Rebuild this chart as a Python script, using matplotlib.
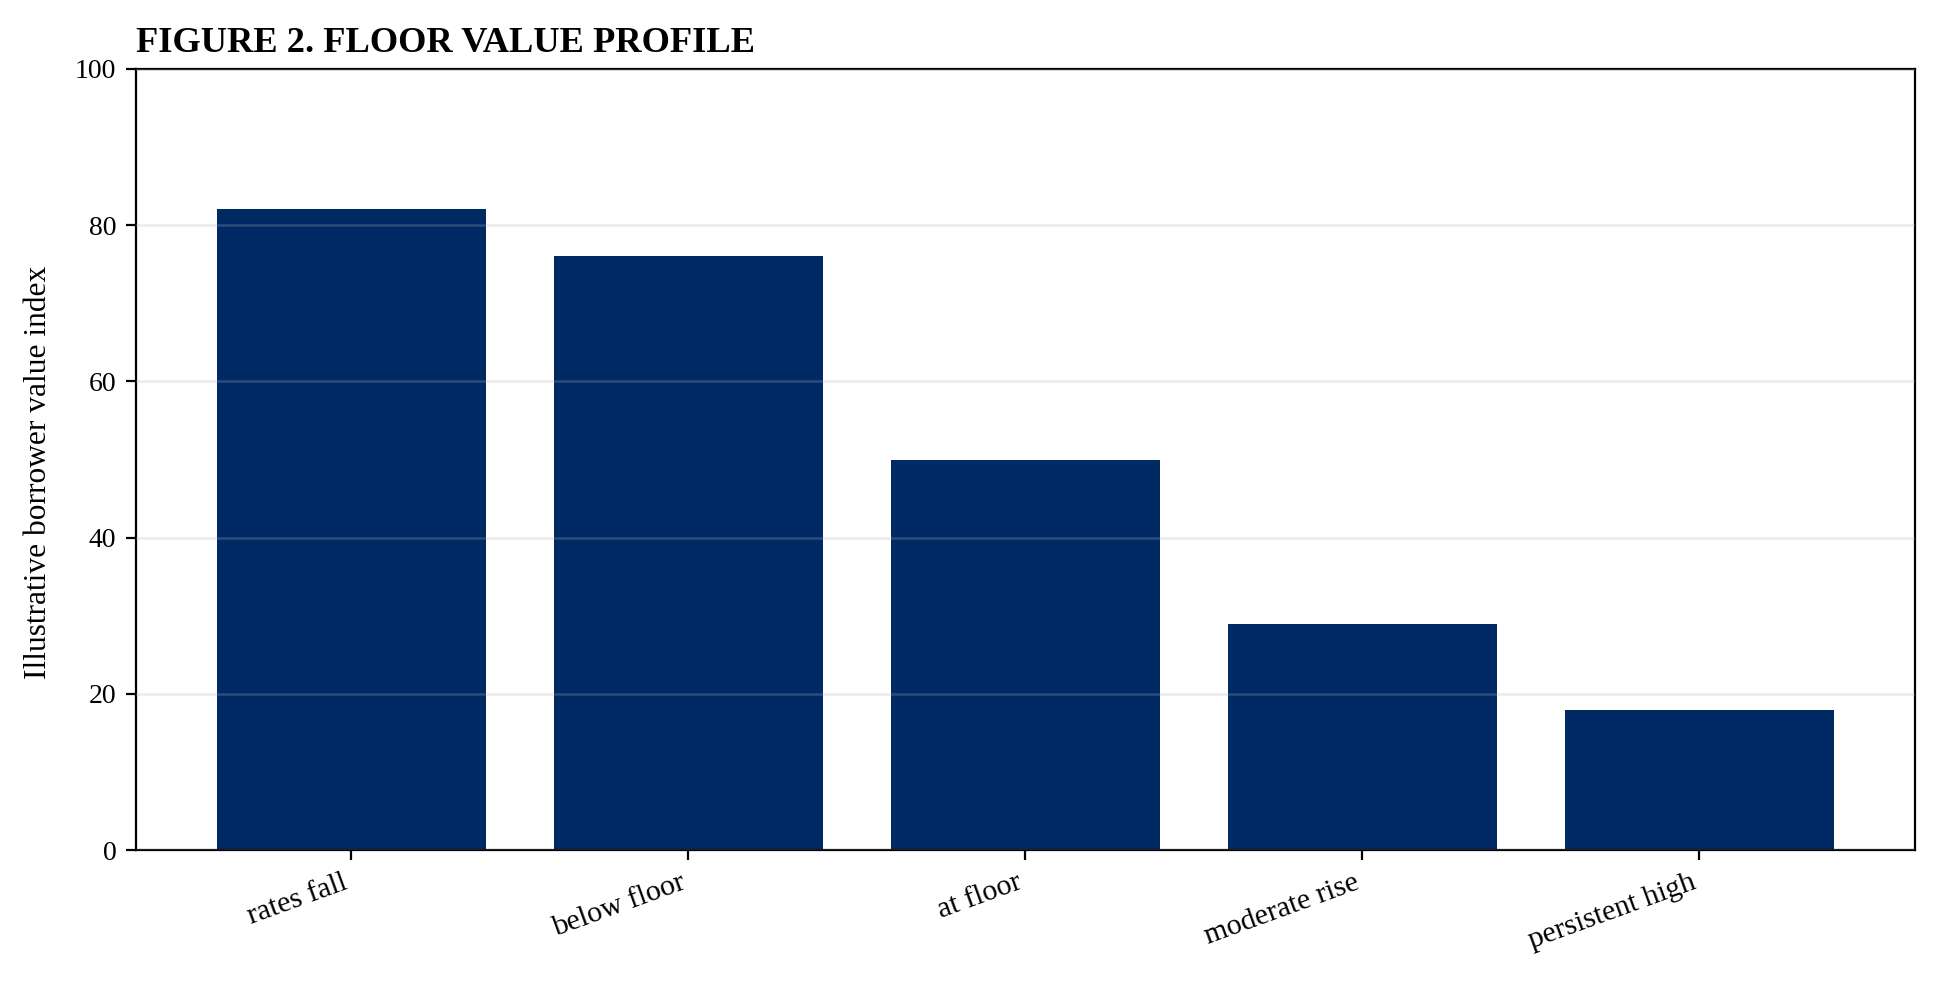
import matplotlib
matplotlib.use("Agg")
import matplotlib.pyplot as plt

# Scenario categories and illustrative borrower value index
scenarios = ["rates fall", "below floor", "at floor", "moderate rise", "persistent high"]
value_index = [82, 76, 50, 29, 18]
y_ticks = [0, 20, 40, 60, 80, 100]

plt.rcParams["font.family"] = ["Liberation Serif", "DejaVu Serif"]

fig, ax = plt.subplots(figsize=(9.695, 4.915), dpi=200)
fig.subplots_adjust(left=0.070, right=0.9876, top=0.930, bottom=0.135)

ax.bar(range(len(scenarios)), value_index, width=0.8, color="#002A64")

ax.set_ylim(0, 100)
ax.set_yticks(y_ticks)
ax.set_xticks(range(len(scenarios)))
ax.set_xticklabels(scenarios, rotation=20, ha="right", fontsize=10.8)
ax.tick_params(axis="y", labelsize=10)
ax.set_ylabel("Illustrative borrower value index", fontsize=11.3, labelpad=8)
ax.yaxis.label.set_y(0.483)
ax.set_title("FIGURE 2. FLOOR VALUE PROFILE", loc="left", fontweight="bold", fontsize=13.1)

# faint horizontal grid drawn over the bars
ax.set_axisbelow(False)
ax.grid(axis="y", color="#b0b0b0", alpha=0.25, linewidth=0.9)

fig.savefig("out.png", dpi=200)
